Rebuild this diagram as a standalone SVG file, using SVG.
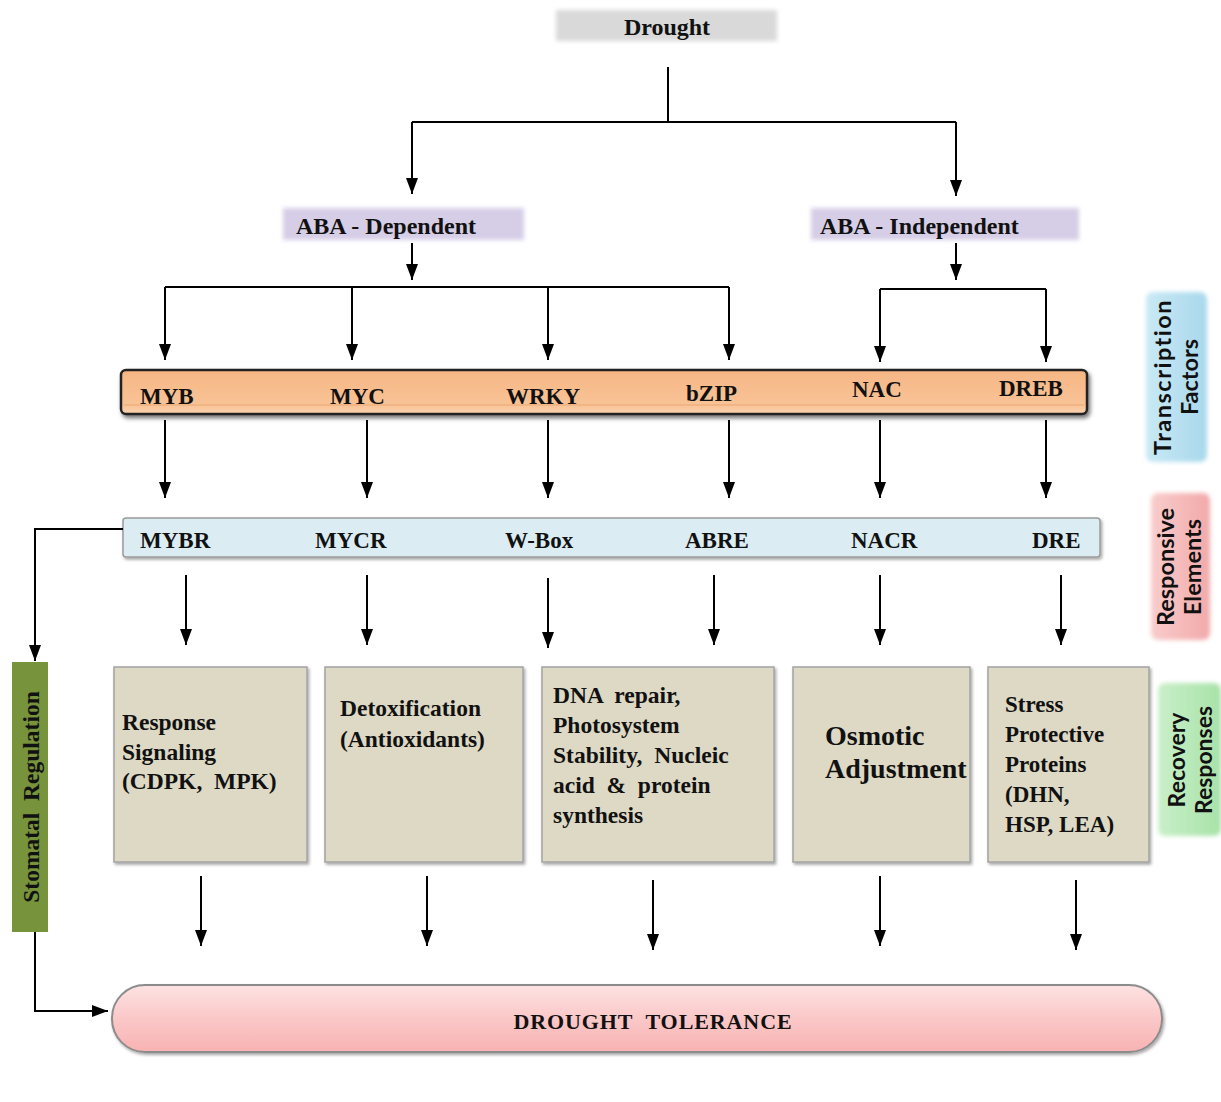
<svg xmlns="http://www.w3.org/2000/svg" width="1221" height="1102" viewBox="0 0 1221 1102">
<defs>
<marker id="ah" markerUnits="userSpaceOnUse" markerWidth="18" markerHeight="14" refX="16" refY="7" orient="auto">
<path d="M0,1 L16,7 L0,13 z" fill="#000"/>
</marker>
<filter id="soft" x="-10%" y="-20%" width="120%" height="140%"><feGaussianBlur stdDeviation="2"/></filter>
<filter id="shadow" x="-5%" y="-20%" width="110%" height="150%"><feDropShadow dx="1.5" dy="2" stdDeviation="1.5" flood-color="#000" flood-opacity="0.35"/></filter>
<filter id="shadow2" x="-5%" y="-30%" width="110%" height="170%"><feDropShadow dx="2" dy="3" stdDeviation="2" flood-color="#000" flood-opacity="0.55"/></filter>
<linearGradient id="gOrange" x1="0" y1="0" x2="0" y2="1">
<stop offset="0" stop-color="#f6b684"/><stop offset="0.8" stop-color="#f9c396"/><stop offset="1" stop-color="#fbd3b0"/>
</linearGradient>
<linearGradient id="gPink" x1="0" y1="0" x2="0" y2="1">
<stop offset="0" stop-color="#fde2e2"/><stop offset="0.5" stop-color="#fbc8c8"/><stop offset="1" stop-color="#f8b2b2"/>
</linearGradient>
<linearGradient id="gTF" x1="0" y1="0" x2="1" y2="0">
<stop offset="0" stop-color="#c9e9f5"/><stop offset="1" stop-color="#a9d8ec"/>
</linearGradient>
<linearGradient id="gRE" x1="0" y1="0" x2="1" y2="0">
<stop offset="0" stop-color="#f9cccc"/><stop offset="1" stop-color="#f2a9a9"/>
</linearGradient>
<linearGradient id="gRR" x1="0" y1="0" x2="1" y2="0">
<stop offset="0" stop-color="#c9efc9"/><stop offset="1" stop-color="#a8e2a8"/>
</linearGradient>
</defs>
<style>
.t{font-family:"Liberation Serif","Times New Roman",serif;font-weight:bold;fill:#111;white-space:pre;}
.s{font-family:Lato,"Open Sans",sans-serif;font-weight:bold;fill:#111;}
.c{fill:none;stroke:#000;stroke-width:2;}
.a{fill:none;stroke:#000;stroke-width:2;marker-end:url(#ah);}
.box{fill:#ddd9c4;stroke:#a3a3a3;stroke-width:1.5;}
</style>
<rect width="1221" height="1102" fill="#fff"/>

<g id="drought">
<rect x="556" y="10" width="221" height="31" fill="#d9d9d9" filter="url(#soft)"/>
<text class="t" x="667" y="35" font-size="24" text-anchor="middle">Drought</text>
</g>
<g id="aba-dependent">
<rect x="283" y="208" width="241" height="32" fill="#d6cee6" filter="url(#soft)"/>
<text class="t" x="296" y="234" font-size="24">ABA - Dependent</text>
</g>
<g id="aba-independent">
<rect x="811" y="208" width="268" height="32" fill="#d6cee6" filter="url(#soft)"/>
<text class="t" x="820" y="234" font-size="24">ABA - Independent</text>
</g>

<g id="transcription-factors-bar">
<rect x="121" y="370" width="966" height="44" rx="5" fill="url(#gOrange)" stroke="#222" stroke-width="2.5" filter="url(#shadow2)"/>
<line x1="124" y1="405" x2="1084" y2="405" stroke="#e9a877" stroke-width="1"/>
<text class="t" x="140" y="404" font-size="23">MYB</text>
<text class="t" x="330" y="404" font-size="23">MYC</text>
<text class="t" x="506" y="404" font-size="23">WRKY</text>
<text class="t" x="686" y="401" font-size="23">bZIP</text>
<text class="t" x="852" y="397" font-size="23">NAC</text>
<text class="t" x="999" y="396" font-size="23">DREB</text>
</g>

<g id="responsive-elements-bar">
<rect x="123" y="518" width="977" height="39" rx="3" fill="#dbedf3" stroke="#9a9a9a" stroke-width="1.5" filter="url(#shadow)"/>
<text class="t" x="140" y="548" font-size="23">MYBR</text>
<text class="t" x="315" y="548" font-size="23">MYCR</text>
<text class="t" x="505" y="548" font-size="23">W-Box</text>
<text class="t" x="685" y="548" font-size="23">ABRE</text>
<text class="t" x="851" y="548" font-size="23">NACR</text>
<text class="t" x="1032" y="548" font-size="23">DRE</text>
</g>

<g id="stomatal-regulation">
<rect x="12" y="662" width="36" height="270" fill="#77933c"/>
<text class="t" transform="translate(39,797) rotate(-90)" x="0" y="0" font-size="23.5" text-anchor="middle">Stomatal  Regulation</text>
</g>

<g id="response-signaling">
<rect class="box" x="114" y="667" width="193" height="195" filter="url(#shadow)"/>
<text class="t" font-size="23.5"><tspan x="122" y="730">Response</tspan><tspan x="122" y="760">Signaling</tspan><tspan x="122" y="789">(CDPK,  MPK)</tspan></text>
</g>
<g id="detoxification">
<rect class="box" x="325" y="667" width="198" height="195" filter="url(#shadow)"/>
<text class="t" font-size="23.5"><tspan x="340" y="716">Detoxification</tspan><tspan x="340" y="747">(Antioxidants)</tspan></text>
</g>
<g id="dna-repair">
<rect class="box" x="542" y="667" width="232" height="195" filter="url(#shadow)"/>
<text class="t" font-size="23.5"><tspan x="553" y="703">DNA  repair,</tspan><tspan x="553" y="733">Photosystem</tspan><tspan x="553" y="763">Stability,  Nucleic</tspan><tspan x="553" y="793">acid  &amp;  protein</tspan><tspan x="553" y="823">synthesis</tspan></text>
</g>
<g id="osmotic-adjustment">
<rect class="box" x="793" y="667" width="177" height="195" filter="url(#shadow)"/>
<text class="t" font-size="28"><tspan x="825" y="745">Osmotic</tspan><tspan x="825" y="778">Adjustment</tspan></text>
</g>
<g id="stress-proteins">
<rect class="box" x="988" y="667" width="161" height="195" filter="url(#shadow)"/>
<text class="t" font-size="23"><tspan x="1005" y="712">Stress</tspan><tspan x="1005" y="742">Protective</tspan><tspan x="1005" y="772">Proteins</tspan><tspan x="1005" y="802">(DHN,</tspan><tspan x="1005" y="832">HSP, LEA)</tspan></text>
</g>

<g id="drought-tolerance">
<rect x="112" y="985" width="1050" height="67" rx="33" fill="url(#gPink)" stroke="#8c8c8c" stroke-width="2" filter="url(#shadow)"/>
<text class="t" x="653" y="1029" font-size="22" letter-spacing="0.9" text-anchor="middle">DROUGHT  TOLERANCE</text>
</g>

<g id="label-transcription-factors">
<rect x="1146" y="292" width="61" height="170" rx="7" fill="url(#gTF)" filter="url(#soft)"/>
<text class="s" transform="translate(1176,377) rotate(-90)" font-size="23.5" text-anchor="middle"><tspan x="0" y="-5" letter-spacing="1.5">Transcription</tspan><tspan x="0" y="22">Factors</tspan></text>
</g>
<g id="label-responsive-elements">
<rect x="1151" y="493" width="59" height="147" rx="7" fill="url(#gRE)" filter="url(#soft)"/>
<text class="s" transform="translate(1180,567) rotate(-90)" font-size="23.5" text-anchor="middle"><tspan x="0" y="-6">Responsive</tspan><tspan x="0" y="21">Elements</tspan></text>
</g>
<g id="label-recovery-responses">
<rect x="1158" y="683" width="63" height="153" rx="7" fill="url(#gRR)" filter="url(#soft)"/>
<text class="s" transform="translate(1189,760) rotate(-90)" font-size="23" text-anchor="middle"><tspan x="0" y="-4">Recovery</tspan><tspan x="0" y="23">Responses</tspan></text>
</g>

<g id="connectors">
<path class="c" d="M668,67 V122 M412,122 H956"/>
<path class="a" d="M412,122 V194"/>
<path class="a" d="M956,122 V196"/>
<path class="a" d="M412,243 V280"/>
<path class="a" d="M956,243 V280"/>
<path class="c" d="M165,287 H729"/>
<path class="a" d="M165,287 V360"/>
<path class="a" d="M352,287 V360"/>
<path class="a" d="M548,287 V360"/>
<path class="a" d="M729,287 V360"/>
<path class="c" d="M880,289 H1046"/>
<path class="a" d="M880,289 V362"/>
<path class="a" d="M1046,289 V362"/>
<path class="a" d="M165,420 V498"/>
<path class="a" d="M367,420 V498"/>
<path class="a" d="M548,420 V498"/>
<path class="a" d="M729,420 V498"/>
<path class="a" d="M880,420 V498"/>
<path class="a" d="M1046,420 V498"/>
<path class="a" d="M186,575 V645"/>
<path class="a" d="M367,575 V645"/>
<path class="a" d="M548,578 V648"/>
<path class="a" d="M714,575 V645"/>
<path class="a" d="M880,575 V645"/>
<path class="a" d="M1061,575 V645"/>
<path class="a" d="M201,876 V946"/>
<path class="a" d="M427,876 V946"/>
<path class="a" d="M653,880 V950"/>
<path class="a" d="M880,876 V946"/>
<path class="a" d="M1076,880 V950"/>
<path class="a" d="M123,529 H35 V661"/>
<path class="a" d="M35,932 V1011 H108"/>
</g>
</svg>
